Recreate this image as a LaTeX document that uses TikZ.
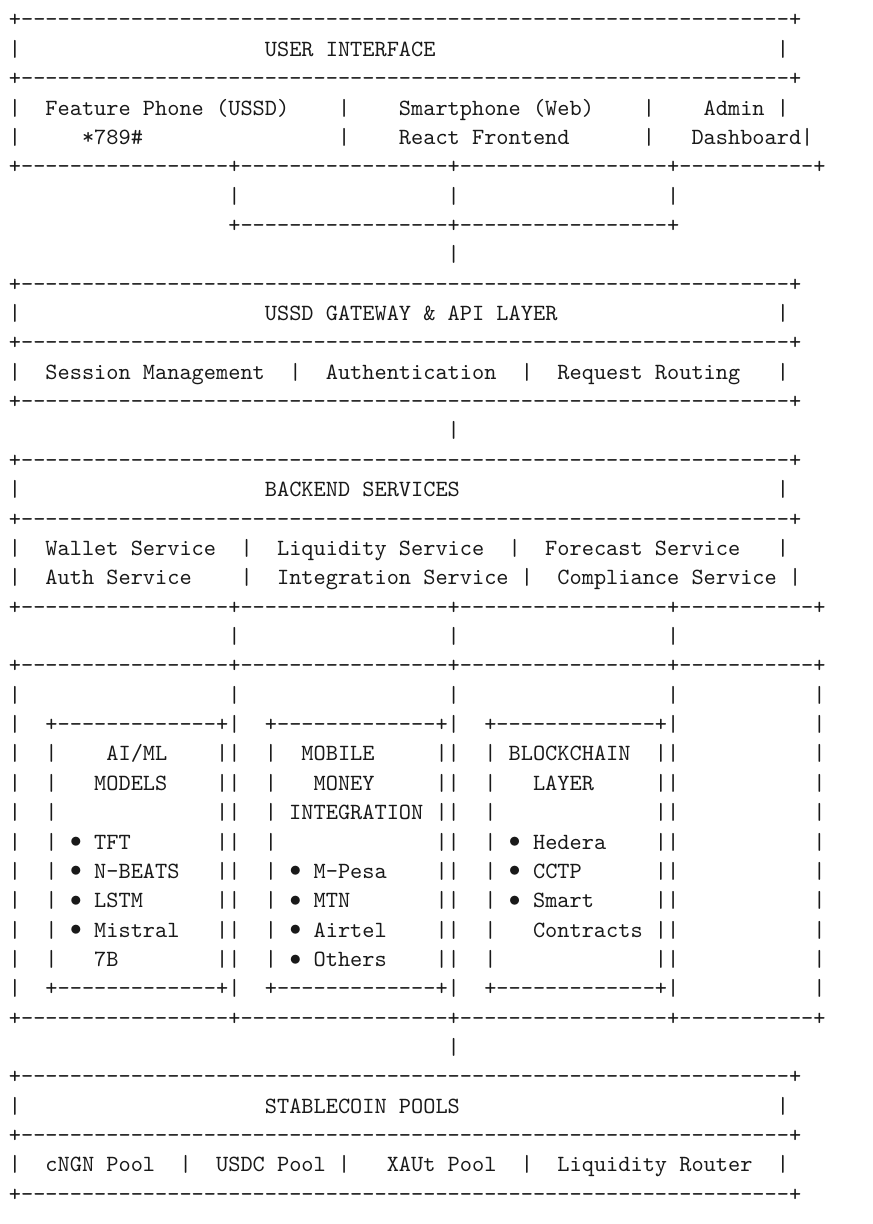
\documentclass[tikz,border=0pt]{standalone}
\usepackage{tikz}
\usepackage{graphicx}
\newcommand\dsh[1]{\foreach\i in {1,...,#1}{-\kern0pt}}
\newcommand\gp[1]{\kern#1\fontcharwd\font`M\relax}
\newcommand\bul{\makebox[\fontcharwd\font`M]{\raisebox{0.06em}{$\bullet$}}}
\newcommand\asciiline[2]{\node[ln] (l#1) at (8.9,{29.36*#1-2.44}) {\scalebox{1.7414}{#2}};}
\tikzset{ln/.style={anchor=base west,inner sep=0pt,outer sep=0pt,text=black!90}}
\begin{document}
\begin{tikzpicture}[x=0.75pt,y=-0.75pt,font=\ttfamily\fontsize{10pt}{12pt}\selectfont]
\fill[white] (0,0) rectangle (872,1224);
\useasboundingbox (0,0) rectangle (872,1224);
\asciiline{1}{+\dsh{63}+}
\asciiline{2}{|\gp{20}USER INTERFACE\gp{28}|}
\asciiline{3}{+\dsh{63}+}
\asciiline{4}{|\gp{2}Feature Phone (USSD)\gp{4}|\gp{4}Smartphone (Web)\gp{4}|\gp{4}Admin\gp{1}|}
\asciiline{5}{|\gp{5}*789\#\gp{16}|\gp{4}React Frontend\gp{6}|\gp{3}Dashboard|}
\asciiline{6}{+\dsh{17}+\dsh{17}+\dsh{17}+\dsh{11}+}
\asciiline{7}{\gp{18}|\gp{17}|\gp{17}|}
\asciiline{8}{\gp{18}+\dsh{17}+\dsh{17}+}
\asciiline{9}{\gp{36}|}
\asciiline{10}{+\dsh{63}+}
\asciiline{11}{|\gp{20}USSD GATEWAY \& API LAYER\gp{18}|}
\asciiline{12}{+\dsh{63}+}
\asciiline{13}{|\gp{2}Session Management\gp{2}|\gp{2}Authentication\gp{2}|\gp{2}Request Routing\gp{3}|}
\asciiline{14}{+\dsh{63}+}
\asciiline{15}{\gp{36}|}
\asciiline{16}{+\dsh{63}+}
\asciiline{17}{|\gp{20}BACKEND SERVICES\gp{26}|}
\asciiline{18}{+\dsh{63}+}
\asciiline{19}{|\gp{2}Wallet Service\gp{2}|\gp{2}Liquidity Service\gp{2}|\gp{2}Forecast Service\gp{3}|}
\asciiline{20}{|\gp{2}Auth Service\gp{4}|\gp{2}Integration Service\gp{1}|\gp{2}Compliance Service\gp{1}|}
\asciiline{21}{+\dsh{17}+\dsh{17}+\dsh{17}+\dsh{11}+}
\asciiline{22}{\gp{18}|\gp{17}|\gp{17}|}
\asciiline{23}{+\dsh{17}+\dsh{17}+\dsh{17}+\dsh{11}+}
\asciiline{24}{|\gp{17}|\gp{17}|\gp{17}|\gp{11}|}
\asciiline{25}{|\gp{2}+\dsh{13}+|\gp{2}+\dsh{13}+|\gp{2}+\dsh{13}+|\gp{11}|}
\asciiline{26}{|\gp{2}|\gp{4}AI/ML\gp{4}||\gp{2}|\gp{2}MOBILE\gp{5}||\gp{2}|\gp{1}BLOCKCHAIN\gp{2}||\gp{11}|}
\asciiline{27}{|\gp{2}|\gp{3}MODELS\gp{4}||\gp{2}|\gp{3}MONEY\gp{5}||\gp{2}|\gp{3}LAYER\gp{5}||\gp{11}|}
\asciiline{28}{|\gp{2}|\gp{13}||\gp{2}|\gp{1}INTEGRATION\gp{1}||\gp{2}|\gp{13}||\gp{11}|}
\asciiline{29}{|\gp{2}|\gp{1}\bul\gp{1}TFT\gp{7}||\gp{2}|\gp{13}||\gp{2}|\gp{1}\bul\gp{1}Hedera\gp{4}||\gp{11}|}
\asciiline{30}{|\gp{2}|\gp{1}\bul\gp{1}N-BEATS\gp{3}||\gp{2}|\gp{1}\bul\gp{1}M-Pesa\gp{4}||\gp{2}|\gp{1}\bul\gp{1}CCTP\gp{6}||\gp{11}|}
\asciiline{31}{|\gp{2}|\gp{1}\bul\gp{1}LSTM\gp{6}||\gp{2}|\gp{1}\bul\gp{1}MTN\gp{7}||\gp{2}|\gp{1}\bul\gp{1}Smart\gp{5}||\gp{11}|}
\asciiline{32}{|\gp{2}|\gp{1}\bul\gp{1}Mistral\gp{3}||\gp{2}|\gp{1}\bul\gp{1}Airtel\gp{4}||\gp{2}|\gp{3}Contracts\gp{1}||\gp{11}|}
\asciiline{33}{|\gp{2}|\gp{3}7B\gp{8}||\gp{2}|\gp{1}\bul\gp{1}Others\gp{4}||\gp{2}|\gp{13}||\gp{11}|}
\asciiline{34}{|\gp{2}+\dsh{13}+|\gp{2}+\dsh{13}+|\gp{2}+\dsh{13}+|\gp{11}|}
\asciiline{35}{+\dsh{17}+\dsh{17}+\dsh{17}+\dsh{11}+}
\asciiline{36}{\gp{36}|}
\asciiline{37}{+\dsh{63}+}
\asciiline{38}{|\gp{20}STABLECOIN POOLS\gp{26}|}
\asciiline{39}{+\dsh{63}+}
\asciiline{40}{|\gp{2}cNGN Pool\gp{2}|\gp{2}USDC Pool\gp{1}|\gp{3}XAUt Pool\gp{2}|\gp{2}Liquidity Router\gp{2}|}
\asciiline{41}{+\dsh{63}+}
\end{tikzpicture}
\end{document}
